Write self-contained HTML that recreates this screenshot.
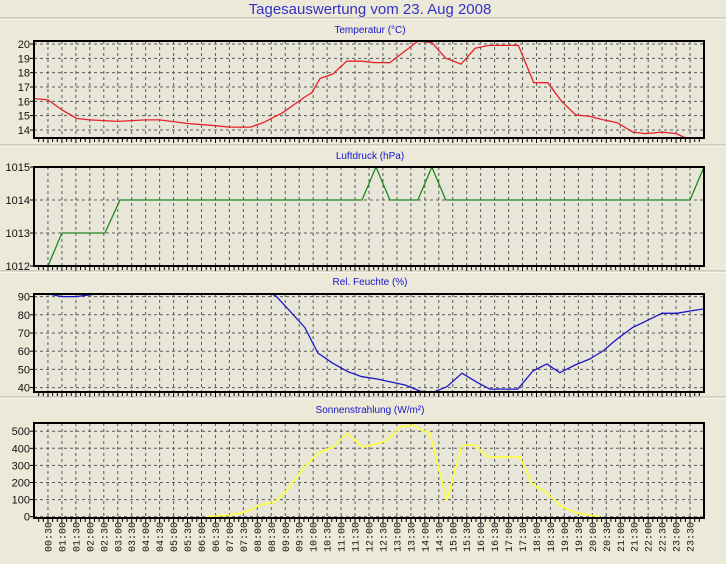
<!DOCTYPE html>
<html><head><meta charset="utf-8"><style>
html,body{margin:0;padding:0;background:#ECE9D8;}
svg{display:block;}
</style></head><body>
<svg id="chart" width="726" height="564" xmlns="http://www.w3.org/2000/svg" font-family="Liberation Sans, sans-serif">
<rect x="0" y="0" width="726" height="564" fill="#ECE9D8"/>
<text x="370" y="14" text-anchor="middle" font-size="15" fill="#3232C8">Tagesauswertung vom 23. Aug 2008</text>
</svg>
<script>
// ---- data ----
const tempTimes = [0,0.5,1.0,1.54,2.0,3.0,4.0,4.5,5.5,6.5,7.0,7.75,8.2,8.9,9.7,9.95,10.25,10.7,11.2,11.75,12.2,12.75,13.75,14.25,14.75,15.3,15.8,16.3,17.35,17.9,18.4,18.9,19.4,19.9,20.4,20.9,21.45,21.9,22.5,23.0,23.4];
const tempValues = [16.2,16.1,15.4,14.8,14.7,14.6,14.7,14.7,14.45,14.3,14.2,14.2,14.5,15.2,16.3,16.6,17.6,17.9,18.8,18.8,18.7,18.7,20.2,20.1,19.0,18.6,19.7,19.9,19.9,17.3,17.3,16.0,15.05,14.95,14.7,14.5,13.85,13.75,13.85,13.75,13.4];
const presTimes = [0.5,1.0,2.54,3.08,11.75,12.25,12.75,13.75,14.25,14.75,23.5,24.0];
const presValues = [1012,1013,1013,1014,1014,1015,1014,1014,1015,1014,1014,1015];
const humTimes = [0,0.5,1.0,1.5,2.0,2.5,3.0,8.17,8.67,9.17,9.7,10.17,10.7,11.25,11.75,12.29,12.75,13.29,13.83,14.29,14.79,15.33,15.87,16.33,17.33,17.87,18.37,18.84,19.38,19.91,20.38,20.92,21.45,21.96,22.49,23.03,23.5,23.96];
const humValues = [92.5,91.5,90,90,91,92,94,94,90.3,82,73,59,53.4,48.7,46,44.7,43.2,41.4,38.1,37.4,40.5,47.9,42.9,39.2,39.2,49.1,53,48.2,52.4,55.7,60.1,67.1,73.1,76.8,80.8,80.8,82.1,83.2];
const solTimes = [6.2,7.02,7.63,8.09,8.63,9.17,9.63,10.17,10.71,11.21,11.75,12.21,12.64,13.11,13.57,14.18,14.79,15.33,15.8,16.26,17.41,17.84,18.37,18.91,19.45,20.27];
const solValues = [0,10,30,68,88,175,282,370,408,487,408,422,447,525,535,487,97,418,418,350,350,195,137,58,21,0];
const tempTicks = [14,15,16,17,18,19,20];
const presTicks = [1012,1013,1014,1015];
const humTicks = [40,50,60,70,80,90];
const solTicks = [0,100,200,300,400,500];
const xTickLabels = [];
for (let i=1;i<48;i++){const h=Math.floor(i/2), m=i%2?'30':'00'; xTickLabels.push((h<10?'0':'')+h+':'+m);}

const NS='http://www.w3.org/2000/svg';
const svg=document.getElementById('chart');
const X0=34, X1=704;
function xs(h){return X0+h*(X1-X0)/24;}
function mk(tag,attrs,parent){const e=document.createElementNS(NS,tag);for(const k in attrs)e.setAttribute(k,attrs[k]);(parent||svg).appendChild(e);return e;}

// separators
[18,145,271,397].forEach((y,i)=>{
  const l=mk('line',{x1:0,x2:726,y1:y,y2:y,stroke:'#B5B2A2','stroke-width':1});
  
  
  mk('line',{x1:0,x2:726,y1:y+1,y2:y+1,stroke:'#FFFFFF','stroke-width':1});
});

function panel(name,title,titleY,top,bottom,vMin,vMax,ticks,times,vals,color,lw){
  const g=mk('g',{});
  
  
  const ys=v=>bottom-(v-vMin)/(vMax-vMin)*(bottom-top);
  const t=mk('text',{x:370,y:titleY,'text-anchor':'middle','font-size':10,fill:'#1515D0'},g);
  t.textContent=title;
  
  
  mk('rect',{x:X0,y:top,width:X1-X0,height:bottom-top,fill:'#E8E6D8'},g);
  // vertical grid
  for(let i=1;i<48;i++){
    const x=xs(i*0.5);
    const l=mk('line',{x1:x,x2:x,y1:top,y2:bottom,stroke:'#5a5a5a','stroke-width':1,'stroke-dasharray':'3,3'},g);
    
    
  }
  ticks.forEach(v=>{
    const y=ys(v);
    const l=mk('line',{x1:X0,x2:X1,y1:y,y2:y,stroke:'#5a5a5a','stroke-width':1,'stroke-dasharray':'3,3'},g);
    
    
    mk('line',{x1:X0-4,x2:X0,y1:y,y2:y,stroke:'#000','stroke-width':1},g);
    const tx=mk('text',{x:X0-4,y:y+4,'text-anchor':'end','font-size':11,fill:'#111'},g);
    tx.textContent=v;
    
    
  });
  // series
  const cid='clip-'+name;
  const cp=mk('clipPath',{id:cid},g);
  mk('rect',{x:X0,y:top,width:X1-X0,height:bottom-top},cp);
  const pts=times.map((h,i)=>xs(h).toFixed(1)+','+ys(vals[i]).toFixed(1)).join(' ');
  const pl=mk('polyline',{points:pts,fill:'none',stroke:color,'stroke-width':lw,'clip-path':'url(#'+cid+')','stroke-linejoin':'round'},g);
  
  
  // frame
  const fr=mk('rect',{x:X0,y:top,width:X1-X0,height:bottom-top,fill:'none',stroke:'#000','stroke-width':2},g);
  
  
  // minor ticks
  let d='';
  for(let i=1;i<144;i++){const x=xs(i/6);d+='M'+x.toFixed(1)+' '+(bottom+1)+'v'+(i%3==0?4:3);}
  mk('path',{d:d,stroke:'#000','stroke-width':1},g);
}
panel('temperature','Temperatur (°C)',33,41,138,13.44,20.21,tempTicks,tempTimes,tempValues,'#E8202A',1.3);
panel('pressure','Luftdruck (hPa)',159,167,266,1012,1015,presTicks,presTimes,presValues,'#1E8A1E',1.3);
panel('humidity','Rel. Feuchte (%)',285,294,392,37.58,91.43,humTicks,humTimes,humValues,'#1818C8',1.3);
panel('solar','Sonnenstrahlung (W/m²)',413,423,518,-7.6,548,solTicks,solTimes,solValues,'#FFFF3A',1.6);

// x labels
xTickLabels.forEach((lab,i)=>{
  const x=xs((i+1)*0.5);
  const t=mk('text',{x:0,y:0,'font-size':10,'font-family':'Liberation Mono, monospace','text-anchor':'end',fill:'#111',transform:'translate('+(x+3.5).toFixed(1)+',522) rotate(-90)'});
  t.textContent=lab.replace(':',' : ').replace(' : ',':');
  
  
});
</script>
</body></html>
